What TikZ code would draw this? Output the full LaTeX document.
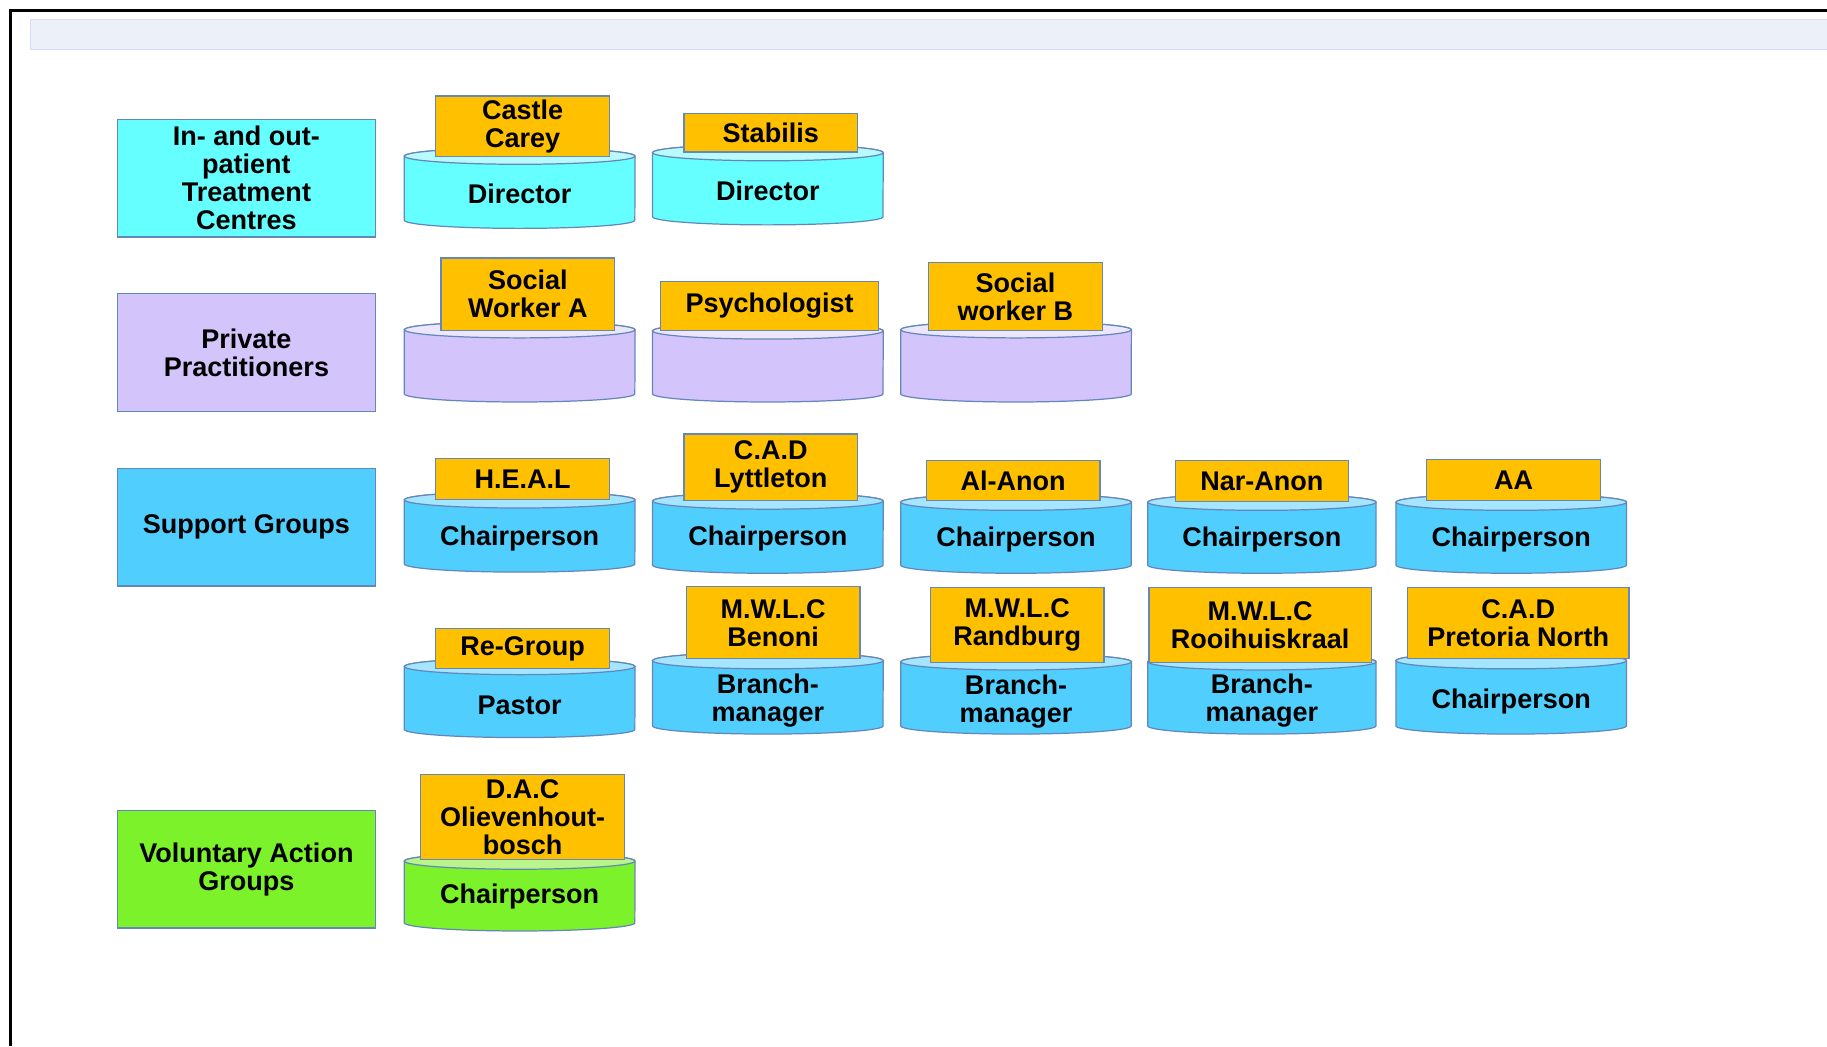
\documentclass[tikz,border=0pt]{standalone}
\usepackage{fontspec}
\setmainfont{Liberation Sans}
\usepackage{tikz}
\usetikzlibrary{positioning}

\definecolor{edge}{RGB}{100, 135, 185}
\definecolor{gold}{RGB}{255, 192, 0}
\definecolor{CyanSide}{RGB}{102, 255, 255}
\definecolor{CyanTop}{RGB}{185, 250, 255}
\definecolor{LilacSide}{RGB}{212, 196, 252}
\definecolor{LilacTop}{RGB}{236, 230, 255}
\definecolor{SkySide}{RGB}{80, 207, 255}
\definecolor{SkyTop}{RGB}{165, 229, 255}
\definecolor{LimeSide}{RGB}{124, 242, 42}
\definecolor{LimeTop}{RGB}{185, 245, 140}
\definecolor{BandBlue}{RGB}{236, 241, 249}

\newcommand{\labelfont}{\fontsize{13.2pt}{13.7pt}\selectfont\bfseries}
% drum: left x, right x, top centre y, bottom centre y, side fill, top fill
\newcommand{\drum}[6]{%
  \filldraw[fill=#5, draw=edge, line width=0.6pt] (#1,#3) -- (#1,#4)
    arc[start angle=180, end angle=360, x radius={(#2-#1)*0.01cm}, y radius=0.14cm]
    -- (#2,#3)
    arc[start angle=0, end angle=180, x radius={(#2-#1)*0.01cm}, y radius=0.14cm] -- cycle;
  \filldraw[fill=#6, draw=edge, line width=0.6pt] ({(#1+#2)/2},#3)
    ellipse[x radius={(#2-#1)*0.01cm}, y radius=0.14cm];
}

\tikzset{
  group/.style={draw=edge, line width=0.6pt, minimum width=4.42cm, minimum height=2.02cm, align=center},
  tag/.style={draw=edge, fill=gold, line width=0.6pt, minimum width=2.98cm, inner sep=1pt, align=center, anchor=south},
  role/.style={align=center, inner sep=0pt},
}

\begin{document}
\begin{tikzpicture}[x=0.02cm, y=-0.02cm, every node/.style={font=\labelfont}]
    \useasboundingbox (0,0) rectangle (1568,898);

    % frame and band
    \draw[line width=0.04cm] (9,898) -- (9,9) -- (1568,9);
    \filldraw[fill=BandBlue, draw=BandBlue!80!blue!60!white, line width=0.3pt] (26,17) rectangle (1568,42);

    % groups
    \node[group, fill=CyanSide] (treat) at (211.5,153) {In- and out-\\patient\\Treatment\\Centres};
    \node[group, fill=LilacSide] (private) at (211.5,302.5) {Private\\Practitioners};
    \node[group, fill=SkySide] (support) at (211.5,452.5) {Support Groups};
    \node[group, fill=LimeSide] (voluntary) at (211.5,746) {Voluntary Action\\Groups};

    % drums
    \drum{347}{545}{134}{189}{CyanSide}{CyanTop}
    \drum{560}{758}{131}{186}{CyanSide}{CyanTop}

    \drum{347}{545}{283}{338}{LilacSide}{LilacTop}
    \drum{560}{758}{284}{338}{LilacSide}{LilacTop}
    \drum{773}{971}{283}{338}{LilacSide}{LilacTop}

    \drum{347}{545}{429}{484}{SkySide}{SkyTop}
    \drum{560}{758}{430}{485}{SkySide}{SkyTop}
    \drum{773}{971}{431}{485}{SkySide}{SkyTop}
    \drum{985}{1181}{431}{485}{SkySide}{SkyTop}
    \drum{1198}{1396}{431}{485}{SkySide}{SkyTop}

    \drum{347}{545}{572}{626}{SkySide}{SkyTop}
    \drum{560}{758}{567}{623}{SkySide}{SkyTop}
    \drum{773}{971}{568}{623}{SkySide}{SkyTop}
    \drum{985}{1181}{568}{623}{SkySide}{SkyTop}
    \drum{1198}{1396}{567}{623}{SkySide}{SkyTop}

    \drum{347}{545}{739}{792}{LimeSide}{LimeTop}

    % tags
    \node[tag, minimum height=1.04cm] (castle) at (448.5,135) {Castle\\Carey};
    \node[tag, minimum height=0.66cm] (stabilis) at (661.5,131) {Stabilis};

    \node[tag, minimum height=1.24cm] (swa) at (453,284) {Social\\Worker A};
    \node[tag, minimum width=3.74cm, minimum height=0.84cm] (psych) at (660.5,284) {Psychologist};
    \node[tag, minimum height=1.16cm] (swb) at (871.5,284) {Social\\worker B};

    \node[tag, minimum height=0.70cm] (heal) at (448.5,429) {H.E.A.L};
    \node[tag, minimum height=1.14cm] (cadl) at (661.5,430) {C.A.D\\Lyttleton};
    \node[tag, minimum height=0.68cm] (alanon) at (869.5,430) {Al-Anon};
    \node[tag, minimum height=0.70cm] (naranon) at (1083,431) {Nar-Anon};
    \node[tag, minimum height=0.70cm] (aa) at (1299,430) {AA};

    \node[tag, minimum height=0.68cm] (regroup) at (448.5,574) {Re-Group};
    \node[tag, minimum height=1.24cm] (benoni) at (663.5,566) {M.W.L.C\\Benoni};
    \node[tag, minimum height=1.28cm] (randburg) at (873,569) {M.W.L.C\\Randburg};
    \node[tag, minimum width=3.82cm, minimum height=1.28cm] (rooi) at (1081.5,569) {M.W.L.C\\Rooihuiskraal};
    \node[tag, minimum width=3.80cm, minimum height=1.22cm] (cadp) at (1303,566) {C.A.D\\Pretoria North};

    \node[tag, minimum width=3.50cm, minimum height=1.46cm] (dac) at (448.5,738) {D.A.C\\Olievenhout-\\bosch};

    % roles
    \node[role] (rcastle) at (446,166) {Director};
    \node[role] (rstabilis) at (659,164) {Director};

    \node[role] (rheal) at (446,462) {Chairperson};
    \node[role] (rcadl) at (659,462) {Chairperson};
    \node[role] (ralanon) at (872,463) {Chairperson};
    \node[role] (rnaranon) at (1083,463) {Chairperson};
    \node[role] (raa) at (1297,463) {Chairperson};

    \node[role] (rregroup) at (446,605) {Pastor};
    \node[role] (rbenoni) at (659,601) {Branch-\\manager};
    \node[role] (rrandburg) at (872,602) {Branch-\\manager};
    \node[role] (rrooi) at (1083,601) {Branch-\\manager};
    \node[role] (rcadp) at (1297,602) {Chairperson};

    \node[role] (rdac) at (446,769) {Chairperson};
\end{tikzpicture}
\end{document}
